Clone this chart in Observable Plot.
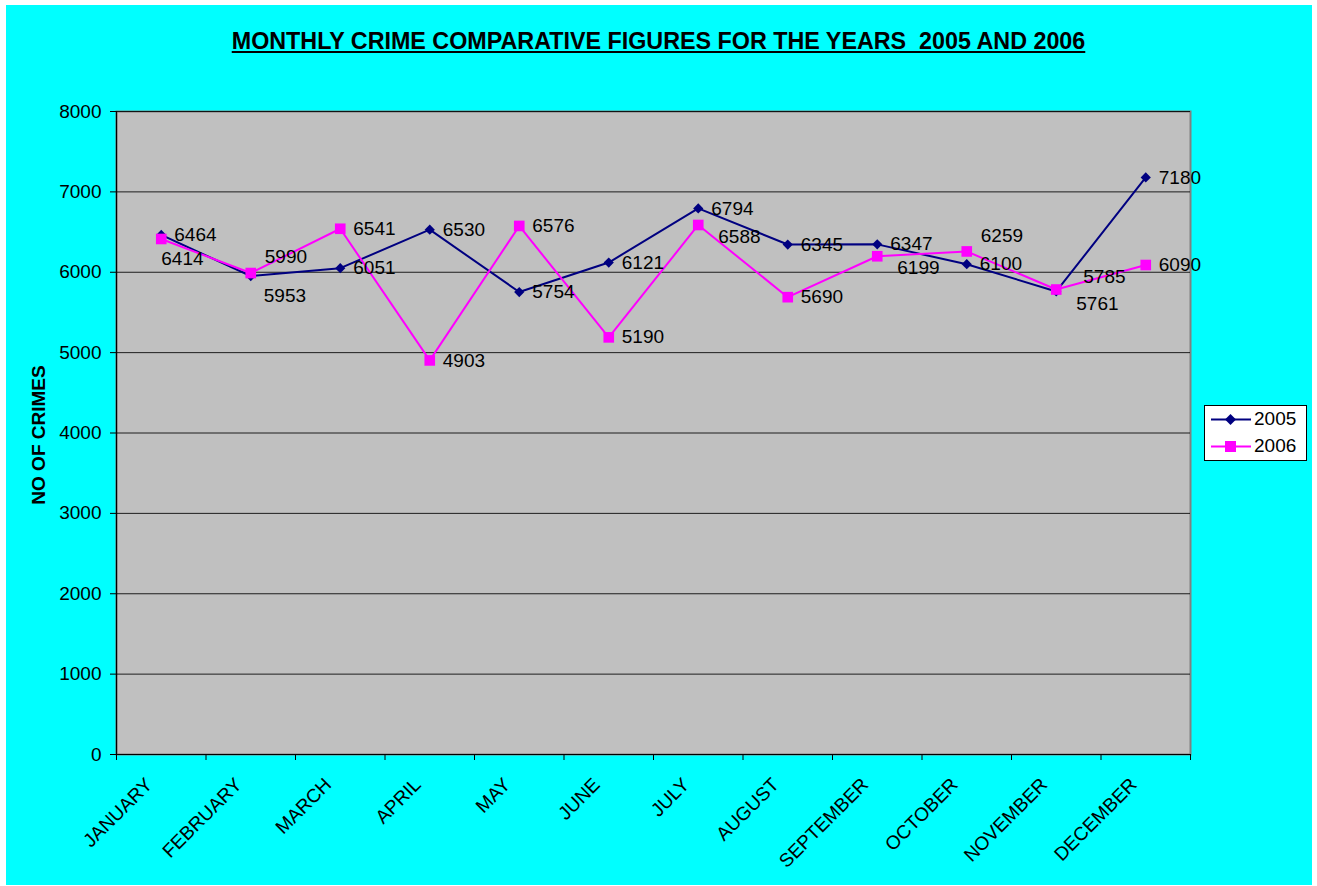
<!DOCTYPE html>
<html>
<head>
<meta charset="utf-8">
<script src="https://cdn.jsdelivr.net/npm/d3@7"></script>
<script src="https://cdn.jsdelivr.net/npm/@observablehq/plot@0.6"></script>
<style>
  html, body { margin: 0; padding: 0; background: #ffffff; }
  body { width: 1317px; height: 886px; position: relative; overflow: hidden; font-family: "Liberation Sans", Arial, sans-serif; }
  #bg { position: absolute; left: 6px; top: 5px; width: 1306px; height: 880px; background: #00ffff; }
  #title { position: absolute; left: 0; top: 28px; width: 1317px; text-align: center; font-size: 23.3px; font-weight: bold; line-height: 26px; text-decoration: underline; color: #000; white-space: pre; }
  #chart { position: absolute; left: 0; top: 0; }
  #legend { position: absolute; left: 1204px; top: 405px; width: 101px; height: 54px; background: #fff; border: 1px solid #000; font-size: 19px; }
  .row { position: absolute; left: 6px; height: 22px; display: flex; align-items: center; }
  .row svg { display: block; }
  .row span { margin-left: 3px; }
</style>
</head>
<body>
<div id="bg"></div>
<div id="chart"></div>
<div id="title">MONTHLY CRIME COMPARATIVE FIGURES FOR THE YEARS  2005 AND 2006</div>
<div id="legend"></div>
<script>
const months = ["JANUARY","FEBRUARY","MARCH","APRIL","MAY","JUNE","JULY","AUGUST","SEPTEMBER","OCTOBER","NOVEMBER","DECEMBER"];
const crimes2005 = [6464, 5953, 6051, 6530, 5754, 6121, 6794, 6345, 6347, 6100, 5761, 7180];
const crimes2006 = [6414, 5990, 6541, 4903, 6576, 5190, 6588, 5690, 6199, 6259, 5785, 6090];
const yTicks = [0, 1000, 2000, 3000, 4000, 5000, 6000, 7000, 8000];
// label placement keywords (compass direction of each data label relative to its point)
const place2005 = ["E","SE","E","E","E","E","E","E","E","E","ESE","E"];
const place2006 = ["S","NE","E","E","E","E","ESE","E","ESE","NE","ENE","E"];

const nudge = {E:[13,0], SE:[13,20], ESE:[20,12], S:[0,20], NE:[14,-16], ENE:[27,-13]};

const series = [
  {name: "2005", values: crimes2005, place: place2005, color: "#000080", symbol: "diamond2", r: 4.6},
  {name: "2006", values: crimes2006, place: place2006, color: "#ff00ff", symbol: "square", r: 6.0}
];

const rows = [];
for (const s of series) {
  s.values.forEach((v, i) => rows.push({series: s.name, month: months[i], idx: i + 0.5, value: v, place: s.place[i]}));
}

const marks = [
  Plot.frame({fill: "#c0c0c0", stroke: "#808080", strokeWidth: 2}),
  Plot.ruleY(yTicks.filter(d => d > 0), {stroke: "#000", strokeWidth: 1, strokeOpacity: 0.85}),
  Plot.axisY(yTicks, {tickSize: 6, tickPadding: 9, fontSize: 19, tickFormat: d3.format("d"), label: null, stroke: "#000", color: "#000"}),
  Plot.ruleX([0], {stroke: "#000", strokeWidth: 1.2}),
  Plot.ruleY([0], {stroke: "#000", strokeWidth: 1.2}),
  Plot.axisX(d3.range(13), {tickSize: 6, tickFormat: () => "", label: null, stroke: "#000"}),
  Plot.axisX(months.map((m, i) => i + 0.5), {tickSize: 0, tickRotate: -45, tickPadding: 27, dx: -12, fontSize: 19, tickFormat: d => months[d - 0.5], label: null, color: "#000"}),
  Plot.text(["NO OF CRIMES"], {frameAnchor: "left", textAnchor: "middle", rotate: -90, dx: -78, dy: 2, fontWeight: "bold", fontSize: 19, fill: "#000"})
];

for (const s of series) {
  const data = rows.filter(d => d.series === s.name);
  marks.push(Plot.line(data, {x: "idx", y: "value", stroke: s.color, strokeWidth: 2}));
  marks.push(Plot.dot(data, {x: "idx", y: "value", fill: s.color, stroke: "none", symbol: s.symbol, r: s.r}));
}
for (const s of series) {
  const data = rows.filter(d => d.series === s.name);
  for (const key of Object.keys(nudge)) {
    const sub = data.filter(d => d.place === key);
    if (!sub.length) continue;
    marks.push(Plot.text(sub, {x: "idx", y: "value", text: d => String(d.value), dx: nudge[key][0], dy: nudge[key][1], textAnchor: "start", fontSize: 19, fill: "#000"}));
  }
}

const chart = Plot.plot({
  width: 1317,
  height: 886,
  marginLeft: 116,
  marginRight: 127,
  marginTop: 111,
  marginBottom: 132,
  style: {background: "transparent", fontFamily: "Liberation Sans, Arial, sans-serif", color: "#000"},
  x: {type: "linear", domain: [0, 12]},
  y: {domain: [0, 8000]},
  marks
});
document.getElementById("chart").appendChild(chart);

// legend
const legend = document.getElementById("legend");
series.forEach((s, i) => {
  const row = document.createElement("div");
  row.className = "row";
  row.style.top = (i === 0 ? 2 : 29) + "px";
  const marker = s.symbol === "square"
    ? `<rect x="14" y="5" width="11" height="11" fill="${s.color}"/>`
    : `<path d="M19.5 5 L25 10.5 L19.5 16 L14 10.5 Z" fill="${s.color}"/>`;
  row.innerHTML = `<svg width="40" height="21"><line x1="0" x2="40" y1="10.5" y2="10.5" stroke="${s.color}" stroke-width="2"/>${marker}</svg><span>${s.name}</span>`;
  legend.appendChild(row);
});
</script>
</body>
</html>
